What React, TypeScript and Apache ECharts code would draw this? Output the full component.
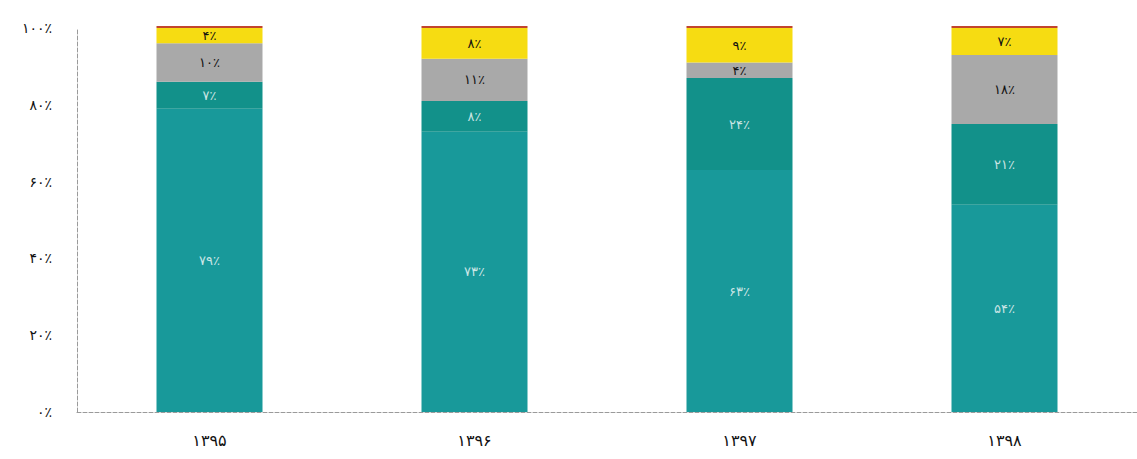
import React, { useEffect, useRef } from "react";
import * as echarts from "echarts";

const categories = ["۱۳۹۵", "۱۳۹۶", "۱۳۹۷", "۱۳۹۸"];
const tealValues = [79, 73, 63, 54];
const darkTealValues = [7, 8, 24, 21];
const grayValues = [10, 11, 4, 18];
const yellowValues = [4, 8, 9, 7];
const redValues = [0.5, 0.5, 0.5, 0.5];
const yTickLabels = ["۰٪", "۲۰٪", "۴۰٪", "۶۰٪", "۸۰٪", "۱۰۰٪"];

const toFa = (n: number) => String(n).replace(/\d/g, (d) => "۰۱۲۳۴۵۶۷۸۹"[+d]);

export default function App() {
  const ref = useRef<HTMLDivElement>(null);
  useEffect(() => {
    if (!ref.current) return;
    const chart = echarts.init(ref.current, null, { renderer: "svg" });
    const font = "DejaVu Sans";
    const mk = (name: string, data: number[], color: string, labelColor: string | null) => ({
      name,
      type: "bar",
      stack: "total",
      data,
      barWidth: "40%",
      clip: false,
      itemStyle: { color },
      label: labelColor
        ? {
            show: true,
            position: "inside",
            color: labelColor,
            fontFamily: font,
            fontSize: 13,
            formatter: (p: any) => toFa(p.value) + "٪",
          }
        : { show: false },
    });
    chart.setOption({
      animation: false,
      backgroundColor: "#ffffff",
      grid: { left: 77, right: 0, top: 28, bottom: 47 },
      xAxis: {
        type: "category",
        data: categories,
        axisLine: { show: true, lineStyle: { color: "#9a9a9a", type: "dashed", width: 1 } },
        axisTick: { show: false },
        axisLabel: { color: "#111", fontFamily: font, fontSize: 16, margin: 20 },
      },
      yAxis: {
        type: "value",
        min: 0,
        max: 100,
        interval: 20,
        axisLine: { show: true, lineStyle: { color: "#9a9a9a", type: "dashed", width: 1 } },
        axisTick: { show: false },
        splitLine: { show: false },
        axisLabel: {
          color: "#111",
          fontFamily: font,
          fontSize: 14,
          margin: 25,
          formatter: (v: number) => yTickLabels[Math.round(v / 20)],
        },
      },
      series: [
        mk("a", tealValues, "#18999a", "rgba(235,245,245,0.85)"),
        mk("b", darkTealValues, "#12918a", "rgba(235,245,245,0.85)"),
        mk("c", grayValues, "#a9a9a9", "#111"),
        mk("d", yellowValues, "#f6dc12", "#111"),
        mk("e", redValues, "#c2452d", null),
      ],
    });
    return () => chart.dispose();
  }, []);
  return (
    <div
      ref={ref}
      style={{ position: "absolute", left: 0, top: 0, width: 1137, height: 459 }}
    />
  );
}
